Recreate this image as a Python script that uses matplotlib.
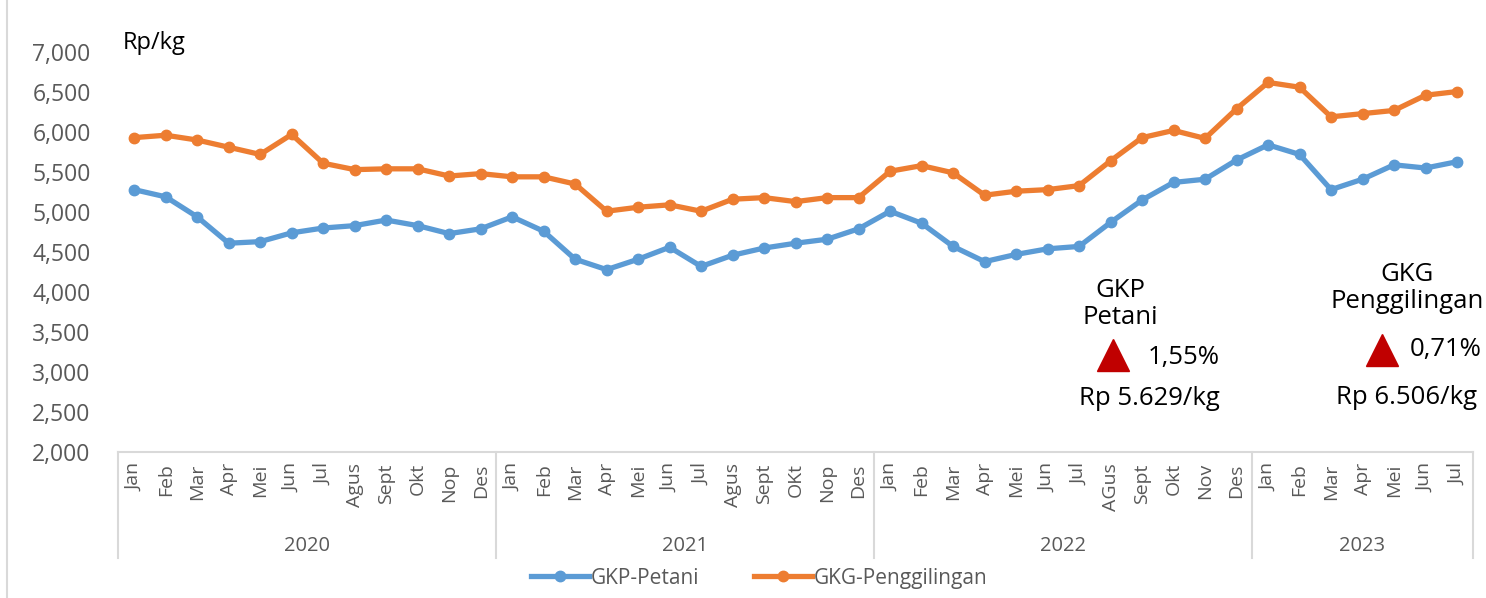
import matplotlib.pyplot as plt
import matplotlib.transforms as mtransforms
from matplotlib.lines import Line2D

# month labels per year, as printed on the axis
months_2020 = ['Jan', 'Feb', 'Mar', 'Apr', 'Mei', 'Jun', 'Jul', 'Agus', 'Sept', 'Okt', 'Nop', 'Des']
months_2021 = ['Jan', 'Feb', 'Mar', 'Apr', 'Mei', 'Jun', 'Jul', 'Agus', 'Sept', 'OKt', 'Nop', 'Des']
months_2022 = ['Jan', 'Feb', 'Mar', 'Apr', 'Mei', 'Jun', 'Jul', 'AGus', 'Sept', 'Okt', 'Nov', 'Des']
months_2023 = ['Jan', 'Feb', 'Mar', 'Apr', 'Mei', 'Jun', 'Jul']
years = ['2020', '2021', '2022', '2023']

# Rp/kg
gkp_petani = [5280, 5190, 4940, 4610, 4630, 4740, 4800, 4830, 4900, 4830, 4730, 4790,
              4940, 4760, 4410, 4280, 4410, 4560, 4320, 4460, 4550, 4610, 4660, 4790,
              5010, 4860, 4570, 4380, 4470, 4540, 4570, 4870, 5150, 5370, 5410, 5650,
              5840, 5720, 5280, 5410, 5590, 5550, 5629]
gkg_penggilingan = [5930, 5960, 5900, 5810, 5720, 5970, 5610, 5530, 5540, 5540, 5450, 5480,
                    5440, 5440, 5350, 5010, 5060, 5090, 5010, 5160, 5180, 5130, 5180, 5180,
                    5510, 5580, 5490, 5210, 5260, 5280, 5330, 5640, 5930, 6020, 5920, 6290,
                    6620, 6560, 6190, 6230, 6270, 6460, 6506]

y_ticks = [2000, 2500, 3000, 3500, 4000, 4500, 5000, 5500, 6000, 6500, 7000]

BLUE = '#5B9BD5'
ORANGE = '#ED7D31'
RED = '#C00000'
GREY_TXT = '#595959'
GREY_LINE = '#D9D9D9'

plt.rcParams['font.family'] = ['Open Sans', 'DejaVu Sans']

month_labels = months_2020 + months_2021 + months_2022 + months_2023
x = list(range(len(month_labels)))

fig = plt.figure(figsize=(14.86, 5.98), dpi=100)
ax = fig.add_axes([0.0797, 0.2441, 0.9114, 0.6689])

ax.plot(x, gkp_petani, color=BLUE, lw=3.8, marker='o', ms=7.5, solid_joinstyle='round')
ax.plot(x, gkg_penggilingan, color=ORANGE, lw=3.8, marker='o', ms=7.5, solid_joinstyle='round')

ax.set_xlim(-0.5, len(x) - 0.5)
ax.set_ylim(2000, 7000)
ax.set_yticks(y_ticks)
ax.set_yticklabels([f'{v:,}' for v in y_ticks], fontsize=16.5, color=GREY_TXT)
ax.tick_params(axis='y', length=0, pad=20)

ax.set_xticks(x)
ax.set_xticklabels(month_labels, rotation=90, va='top', ha='center', fontsize=14, color=GREY_TXT)
ax.tick_params(axis='x', length=0, pad=8)

for side in ['top', 'right', 'left']:
    ax.spines[side].set_visible(False)
ax.spines['bottom'].set_color(GREY_LINE)
ax.spines['bottom'].set_linewidth(1.5)

# multi-level category box: year separators + year names
trans = mtransforms.blended_transform_factory(ax.transData, ax.transAxes)
year_lengths = [len(months_2020), len(months_2021), len(months_2022), len(months_2023)]
start = -0.5
for yr, n in zip(years, year_lengths):
    ax.add_line(Line2D([start, start], [0, -0.265], transform=trans, color=GREY_LINE, lw=1.5, clip_on=False))
    ax.text(start + n / 2, -0.235, yr, transform=trans, ha='center', va='center',
            fontsize=14.5, color=GREY_TXT)
    start += n
ax.add_line(Line2D([start, start], [0, -0.265], transform=trans, color=GREY_LINE, lw=1.5, clip_on=False))

ax.text(0.003, 1.022, 'Rp/kg', transform=ax.transAxes, ha='left', va='center', fontsize=17, color='black')

# annotations on the right
ax.text(0.7396, 0.37, 'GKP\nPetani', transform=ax.transAxes, ha='center', va='center',
        fontsize=18.5, linespacing=1.1)
ax.plot([0.7344], [0.2425], transform=ax.transAxes, marker='^', ms=23, color=RED, clip_on=False)
ax.text(0.7603, 0.2375, '1,55%', transform=ax.transAxes, ha='left', va='center', fontsize=18.5)
ax.text(0.7610, 0.135, 'Rp 5.629/kg', transform=ax.transAxes, ha='center', va='center', fontsize=18.5)

ax.text(0.9514, 0.41, 'GKG\nPenggilingan', transform=ax.transAxes, ha='center', va='center',
        fontsize=18.5, linespacing=1.1)
ax.plot([0.9330], [0.255], transform=ax.transAxes, marker='^', ms=23, color=RED, clip_on=False)
ax.text(0.9536, 0.2575, '0,71%', transform=ax.transAxes, ha='left', va='center', fontsize=18.5)
ax.text(0.951, 0.1375, 'Rp 6.506/kg', transform=ax.transAxes, ha='center', va='center', fontsize=18.5)

handles = [Line2D([], [], color=BLUE, lw=3.8, marker='o', ms=7.5),
           Line2D([], [], color=ORANGE, lw=3.8, marker='o', ms=7.5)]
fig.legend(handles, ['GKP-Petani', 'GKG-Penggilingan'], loc='center', bbox_to_anchor=(0.511, 0.033),
           ncol=2, frameon=False, fontsize=15, labelcolor=GREY_TXT, handlelength=2.8,
           handletextpad=0.1, columnspacing=2.6)

# thin frame line at the left edge of the image
fig.add_artist(Line2D([0.005, 0.005], [0, 1], transform=fig.transFigure, color=GREY_LINE, lw=1.5))

fig.savefig('out.png', dpi=100)
